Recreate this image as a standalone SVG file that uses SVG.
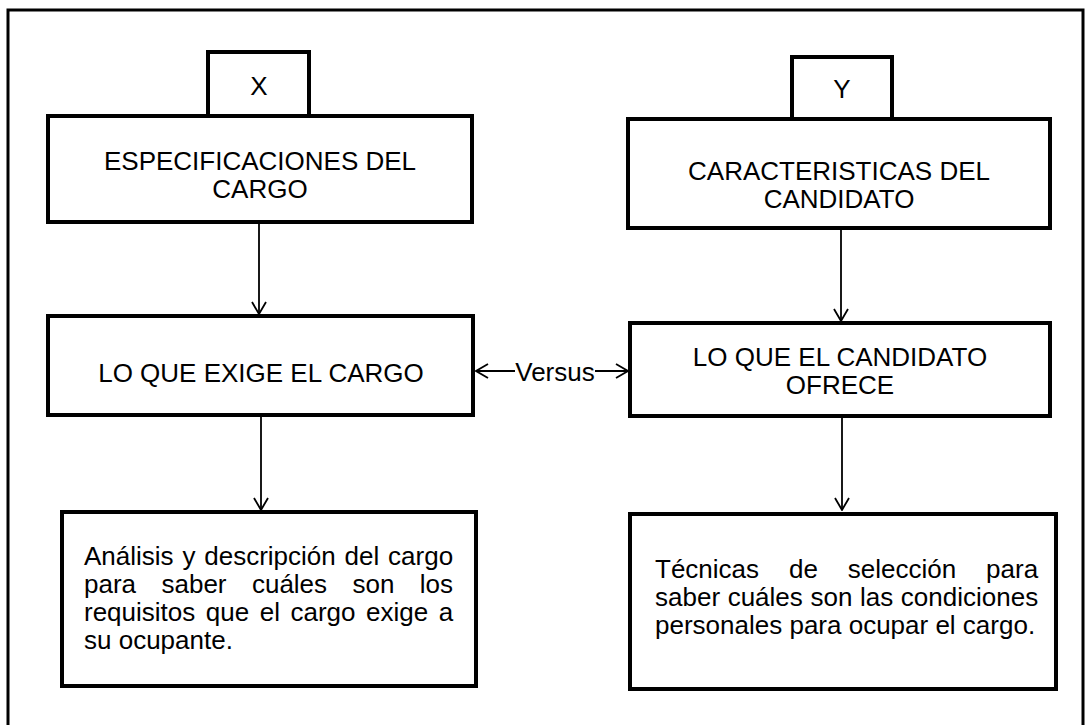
<svg xmlns="http://www.w3.org/2000/svg" width="1088" height="725" viewBox="0 0 1088 725">
<defs>
<style>
.box{fill:#fff;stroke:#000;stroke-width:4}
.t{font-family:"Liberation Sans",Arial,sans-serif;font-size:26px;fill:#000}
.c{text-anchor:middle}
.b{font-family:"Liberation Sans",Arial,sans-serif;font-size:26px;fill:#000}
.ln{stroke:#000;stroke-width:1.8;fill:none}
</style>
<marker id="ah" viewBox="0 0 14 16" refX="13" refY="8" markerWidth="14" markerHeight="16" markerUnits="userSpaceOnUse" orient="auto">
<path d="M1,1 L13,8 L1,15" fill="none" stroke="#000" stroke-width="1.8"/>
</marker>
</defs>
<rect width="1088" height="725" fill="#fff"/>
<rect id="frame" x="8" y="10" width="1075" height="730" fill="none" stroke="#000" stroke-width="3"/>

<g id="connectors">
<line class="ln" x1="259" y1="222" x2="259" y2="314" marker-end="url(#ah)"/>
<line class="ln" x1="841" y1="229" x2="841" y2="321" marker-end="url(#ah)"/>
<line class="ln" x1="261" y1="416" x2="261" y2="510" marker-end="url(#ah)"/>
<line class="ln" x1="842" y1="417" x2="842" y2="510" marker-end="url(#ah)"/>
<line class="ln" x1="515" y1="371" x2="476" y2="371" marker-end="url(#ah)"/>
<line class="ln" x1="595" y1="371" x2="628" y2="371" marker-end="url(#ah)"/>
<text class="t" x="555" y="381" text-anchor="middle" font-size="24">Versus</text>
</g>

<g id="nodeX">
<rect class="box" x="208" y="52" width="101" height="64"/>
<text class="t c" x="259" y="95">X</text>
</g>
<g id="nodeY">
<rect class="box" x="792" y="57" width="100" height="62"/>
<text class="t c" x="842" y="98">Y</text>
</g>
<g id="especificaciones">
<rect class="box" x="48" y="116" width="424" height="106"/>
<text class="t c" x="260" y="170">ESPECIFICACIONES DEL</text>
<text class="t c" x="260" y="198">CARGO</text>
</g>
<g id="caracteristicas">
<rect class="box" x="628" y="119" width="422" height="109"/>
<text class="t c" x="839" y="180">CARACTERISTICAS DEL</text>
<text class="t c" x="839" y="208">CANDIDATO</text>
</g>
<g id="exige">
<rect class="box" x="48" y="316" width="425" height="99"/>
<text class="t c" x="261" y="382">LO QUE EXIGE EL CARGO</text>
</g>
<g id="ofrece">
<rect class="box" x="630" y="323" width="420" height="93"/>
<text class="t c" x="840" y="366">LO QUE EL CANDIDATO</text>
<text class="t c" x="840" y="394">OFRECE</text>
</g>
<g id="analisis">
<rect class="box" x="62" y="512" width="414" height="174"/>
<text class="b" x="84" y="565" word-spacing="1.6">Análisis y descripción del cargo</text>
<text class="b" x="84" y="593" word-spacing="18.2">para saber cuáles son los</text>
<text class="b" x="84" y="621" word-spacing="3.3">requisitos que el cargo exige a</text>
<text class="b" x="84" y="649">su ocupante.</text>
</g>
<g id="tecnicas">
<rect class="box" x="630" y="514" width="426" height="175"/>
<text class="b" x="655" y="578" word-spacing="22.7">Técnicas de selección para</text>
<text class="b" x="655" y="606" word-spacing="0.4">saber cuáles son las condiciones</text>
<text class="b" x="655" y="634">personales para ocupar el cargo.</text>
</g>
</svg>
